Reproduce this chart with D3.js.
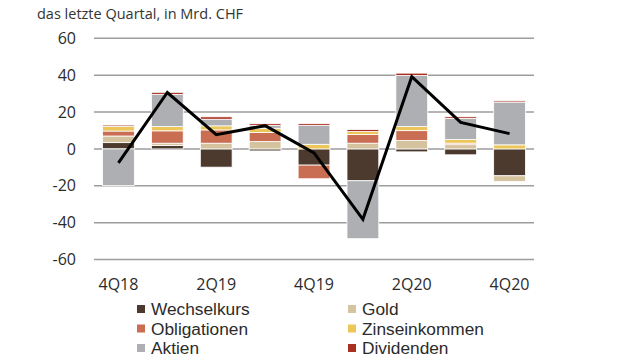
<!DOCTYPE html>
<html><head><meta charset="utf-8">
<script src="https://cdn.jsdelivr.net/npm/d3@7"></script>
<style>
body{margin:0;background:#fff;}
svg{display:block;font-family:"Open Sans",sans-serif;}
</style></head><body>
<svg id="c" width="640" height="360"></svg>
<script>
const quarters = ["4Q18","1Q19","2Q19","3Q19","4Q19","1Q20","2Q20","3Q20","4Q20"];
const tickLabels = ["4Q18","2Q19","4Q19","2Q20","4Q20"];
const yTicks = [60,40,20,0,-20,-40,-60];
const seriesNames = ["Wechselkurs","Gold","Obligationen","Zinseinkommen","Aktien","Dividenden"];
const wechselkurs   = [3.4, 1.8, -9.9, -1.1, -8.8, -17.3, -1.6, -3.2, -14.6];
const gold          = [3.6, 1.3, 3.1, 4.0, 0, 3.1, 4.5, 2.3, -3.1];
const obligationen  = [2.7, 6.7, 7.2, 4.9, -7.4, 4.7, 5.4, 0.8, 0];
const zinseinkommen = [2.5, 2.3, 2.2, 2.3, 2.5, 1.6, 2.2, 2.0, 2.2];
const aktien        = [-19.8, 17.5, 3.6, 1.6, 10.3, -31.4, 27.7, 11.4, 23.2];
const dividenden    = [0.7, 1.1, 1.3, 0.9, 0.9, 1.1, 1.3, 0.9, 0.7];
const total         = [-7.6, 30.6, 7.7, 12.6, -2.2, -38.2, 39.2, 14.4, 8.3];
const colors = ["#4b3a2d","#d5c29f","#c96e52","#edc65a","#adafb2","#a8321f"];

const svg = d3.select("#c");
const x = d3.scaleBand().domain(quarters).range([94,534]).paddingInner(0.35).paddingOuter(0.175);
const y = d3.scaleLinear().domain([-60,60]).range([259.5,38.3]);

// grid
svg.append("g").selectAll("line").data(yTicks).join("line")
  .attr("x1",94).attr("x2",534)
  .attr("y1",d=>y(d)).attr("y2",d=>y(d))
  .attr("stroke","#9d9d9d").attr("stroke-width",1.5);

// y labels
svg.append("g").selectAll("text").data(yTicks).join("text")
  .attr("x",76).attr("y",d=>y(d)).attr("dy","0.35em")
  .attr("text-anchor","end").attr("font-size",16).attr("fill","#2b2b2b")
  .text(d=>d);

// x labels
svg.append("g").selectAll("text").data(tickLabels).join("text")
  .attr("x",d=>x(d)+x.bandwidth()/2).attr("y",284).attr("dy","0.35em")
  .attr("text-anchor","middle").attr("font-size",16).attr("fill","#2b2b2b")
  .text(d=>d);

// stacked bars
const table = quarters.map((q,i)=>({q, Wechselkurs:wechselkurs[i], Gold:gold[i], Obligationen:obligationen[i],
  Zinseinkommen:zinseinkommen[i], Aktien:aktien[i], Dividenden:dividenden[i]}));
const stack = d3.stack().keys(seriesNames).offset(d3.stackOffsetDiverging)(table);
svg.append("g").selectAll("g").data(stack).join("g")
  .attr("fill",(d,i)=>colors[i])
  .selectAll("rect").data(d=>d).join("rect")
  .attr("x",d=>x(d.data.q)).attr("width",x.bandwidth())
  .attr("y",d=>y(Math.max(d[0],d[1])))
  .attr("height",d=>Math.abs(y(d[0])-y(d[1])))
  .attr("stroke","#fff").attr("stroke-width",0.8);

// total line
const line = d3.line().x((d,i)=>x(quarters[i])+x.bandwidth()/2).y(d=>y(d));
svg.append("path").datum(total).attr("d",line)
  .attr("fill","none").attr("stroke","#000").attr("stroke-width",3).attr("stroke-linejoin","miter");

// title
svg.append("text").attr("x",37).attr("y",14).attr("dy","0.35em")
  .attr("font-size",14.5).attr("fill","#333").text("das letzte Quartal, in Mrd. CHF");

// legend
const leg = svg.append("g").style("font-family","'Liberation Sans',Arial,sans-serif");
seriesNames.forEach((n,i)=>{
  const col = i%2, row = Math.floor(i/2);
  const lx = col===0 ? 137 : 348, ly = 309 + row*19.5;
  leg.append("rect").attr("x",lx).attr("y",ly-4).attr("width",8).attr("height",8).attr("fill",colors[i]);
  leg.append("text").attr("x",lx+14).attr("y",ly).attr("dy","0.35em")
    .attr("font-size",17.3).attr("fill","#2b2b2b").text(n);
});
</script>
</body></html>
